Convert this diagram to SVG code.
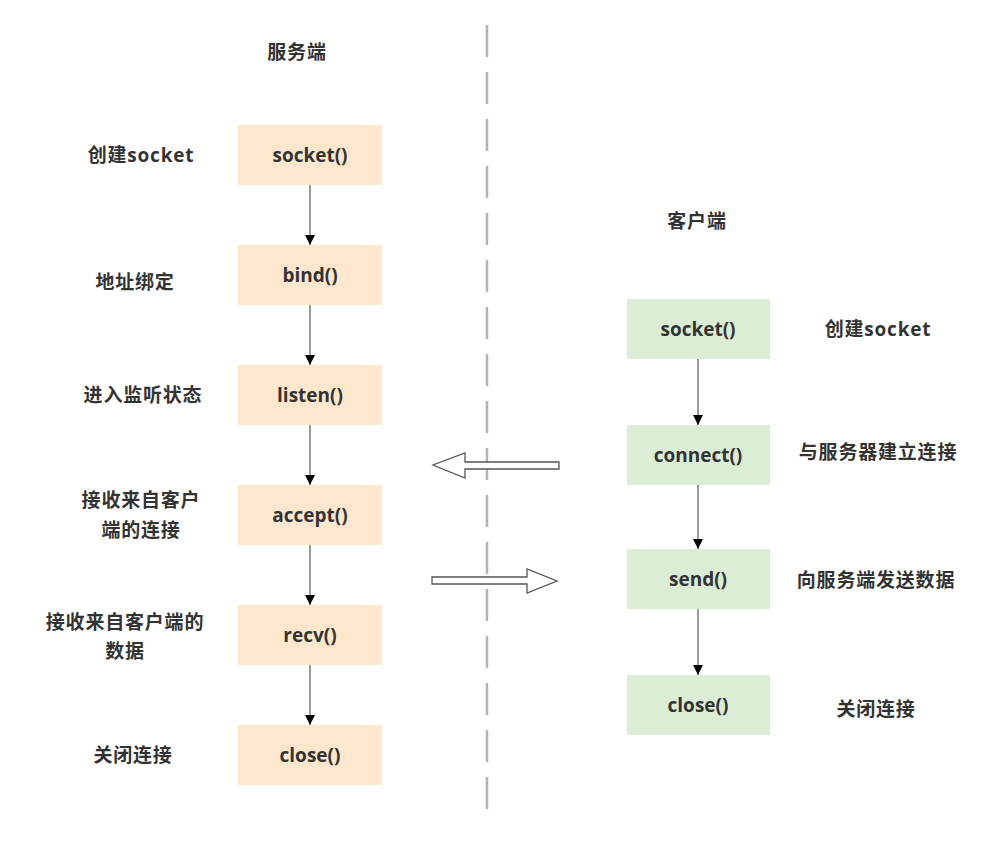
<svg xmlns="http://www.w3.org/2000/svg" width="992" height="852" viewBox="0 0 992 852">
<style>
text{font-family:"Open Sans","Noto Sans CJK SC",sans-serif;font-weight:bold;font-size:19px;fill:#333;text-anchor:middle;dominant-baseline:central}
.cjk{letter-spacing:0.8px}
.s rect{fill:#fee7cd}
.c rect{fill:#dbedd5}
.edge{stroke:#666;stroke-width:1.3;fill:none;marker-end:url(#ah)}
.blk{fill:#fff;stroke:#555;stroke-width:1.3}
</style>
<defs>
<marker id="ah" viewBox="0 0 10 10" refX="10" refY="5" markerWidth="10" markerHeight="10" markerUnits="userSpaceOnUse" orient="auto"><path d="M0,0 L10,5 L0,10 Z" fill="#000"/></marker>
</defs>
<rect width="992" height="852" fill="#fff"/>
<line x1="487" y1="25" x2="487" y2="815" stroke="#b3b3b3" stroke-width="2.5" stroke-dasharray="32 15"/>
<text class="cjk" x="297" y="52">服务端</text>
<text class="cjk" x="697" y="221">客户端</text>
<g id="s1" class="s"><rect x="238" y="125" width="144" height="60"/><text x="310" y="155">socket()</text></g>
<g id="s2" class="s"><rect x="238" y="245" width="144" height="60"/><text x="310" y="275">bind()</text></g>
<g id="s3" class="s"><rect x="238" y="365" width="144" height="60"/><text x="310" y="395">listen()</text></g>
<g id="s4" class="s"><rect x="238" y="485" width="144" height="60"/><text x="310" y="515">accept()</text></g>
<g id="s5" class="s"><rect x="238" y="605" width="144" height="60"/><text x="310" y="635">recv()</text></g>
<g id="s6" class="s"><rect x="238" y="725" width="144" height="60"/><text x="310" y="755">close()</text></g>
<g id="c1" class="c"><rect x="627" y="299" width="143" height="60"/><text x="698" y="329">socket()</text></g>
<g id="c2" class="c"><rect x="627" y="425" width="143" height="60"/><text x="698" y="455">connect()</text></g>
<g id="c3" class="c"><rect x="627" y="549" width="143" height="60"/><text x="698" y="579">send()</text></g>
<g id="c4" class="c"><rect x="627" y="675" width="143" height="60"/><text x="698" y="705">close()</text></g>
<g id="labels" class="cjk">
<text x="141" y="155">创建socket</text>
<text x="135" y="282">地址绑定</text>
<text x="143" y="395">进入监听状态</text>
<text x="141" y="500">接收来自客户</text>
<text x="141" y="530">端的连接</text>
<text x="125" y="622">接收来自客户端的</text>
<text x="125" y="651">数据</text>
<text x="133" y="755">关闭连接</text>
<text x="878" y="329">创建socket</text>
<text x="878" y="452">与服务器建立连接</text>
<text x="876" y="580">向服务端发送数据</text>
<text x="876" y="709">关闭连接</text>
</g>
<g id="connectors">
<line class="edge" x1="310" y1="185" x2="310" y2="245"/>
<line class="edge" x1="310" y1="305" x2="310" y2="365"/>
<line class="edge" x1="310" y1="425" x2="310" y2="485"/>
<line class="edge" x1="310" y1="545" x2="310" y2="605"/>
<line class="edge" x1="310" y1="665" x2="310" y2="725"/>
<line class="edge" x1="698" y1="359" x2="698" y2="425"/>
<line class="edge" x1="698" y1="485" x2="698" y2="549"/>
<line class="edge" x1="698" y1="609" x2="698" y2="675"/>
<path class="blk" d="M559,462 L465,462 L465,453 L433,465 L465,478 L465,469 L559,469 Z"/>
<path class="blk" d="M432,577 L527,577 L527,569 L557,581 L527,593 L527,584 L432,584 Z"/>
</g>
</svg>
